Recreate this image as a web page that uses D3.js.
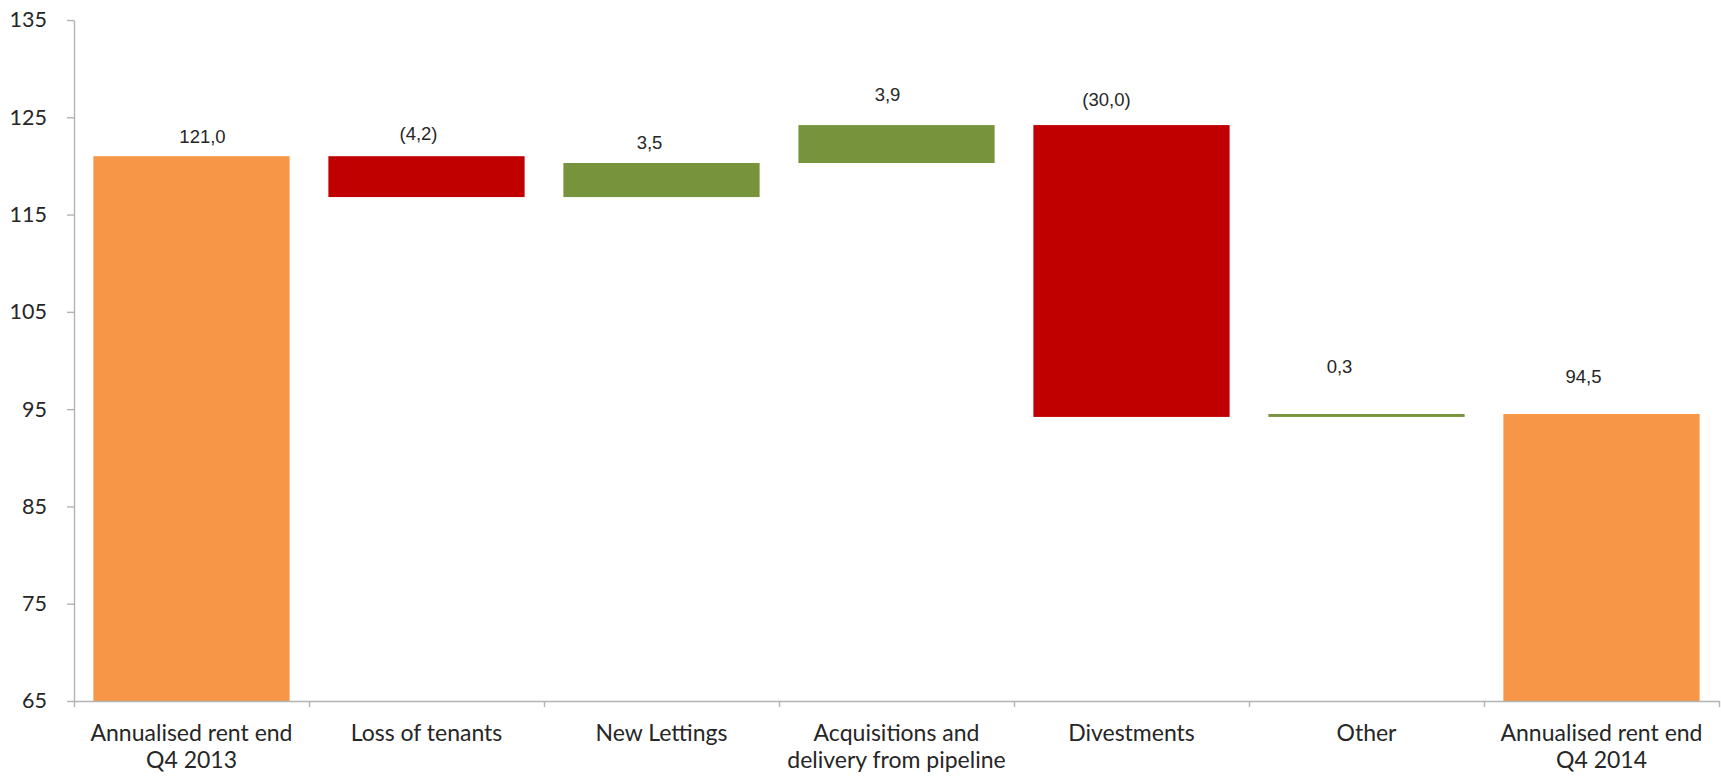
<!DOCTYPE html>
<html>
<head>
<meta charset="utf-8">
<script src="https://cdn.jsdelivr.net/npm/d3@7"></script>
<style>
  body { margin: 0; background: #fff; }
</style>
</head>
<body>
<div id="wrapper"></div>
<script>
// Data
const categories = [
  "Annualised rent end\nQ4 2013",
  "Loss of tenants",
  "New Lettings",
  "Acquisitions and\ndelivery from pipeline",
  "Divestments",
  "Other",
  "Annualised rent end\nQ4 2014",
];
// total = bar from axis base, else change from the running total
const kinds = ["total", "delta", "delta", "delta", "delta", "delta", "total"];
const values = [121.0, -4.2, 3.5, 3.9, -30.0, 0.3, 94.5];
const valueLabels = ["121,0", "(4,2)", "3,5", "3,9", "(30,0)", "0,3", "94,5"];
const yTicks = [65, 75, 85, 95, 105, 115, 125, 135];

// label nudges as placed in the original (px)
const labelDx = [11, -8, -12, -9, -25, -27, -18];
const labelDy = [20, 23, 20, 31, 26, 47, 37];

function drawChart() {
  const dimensions = {
    width: 1721,
    height: 777,
    margins: { top: 20, right: 2, bottom: 76, left: 74 },
  };
  dimensions.boundedWidth =
    dimensions.width - dimensions.margins.left - dimensions.margins.right;
  dimensions.boundedHeight =
    dimensions.height - dimensions.margins.top - dimensions.margins.bottom;

  // waterfall segments
  let running = 0;
  const bars = values.map((v, i) => {
    let y0, y1;
    if (kinds[i] === "total") {
      y0 = yTicks[0];
      y1 = v;
      running = v;
    } else {
      y0 = running;
      y1 = running + v;
      running = y1;
    }
    return { cat: categories[i], y0, y1, v, kind: kinds[i], i };
  });

  const colorFor = (d) =>
    d.kind === "total" ? "#F79646" : d.v < 0 ? "#C00000" : "#77933C";

  const wrapper = d3
    .select("#wrapper")
    .append("svg")
    .attr("width", dimensions.width)
    .attr("height", dimensions.height);

  const bounds = wrapper
    .append("g")
    .attr(
      "transform",
      `translate(${dimensions.margins.left},${dimensions.margins.top})`
    );

  // Scales
  const xScale = d3
    .scaleBand()
    .domain(categories)
    .range([0, dimensions.boundedWidth])
    .paddingInner(0.165)
    .paddingOuter(0.0825);

  const slotScale = d3
    .scaleLinear()
    .domain([0, categories.length])
    .range([0, dimensions.boundedWidth]);

  const yScale = d3
    .scaleLinear()
    .domain([yTicks[0], yTicks[yTicks.length - 1]])
    .range([dimensions.boundedHeight, 0]);

  // Bars
  bounds
    .append("g")
    .selectAll("rect")
    .data(bars)
    .join("rect")
    .attr("x", (d) => xScale(d.cat))
    .attr("width", xScale.bandwidth())
    .attr("y", (d) => yScale(Math.max(d.y0, d.y1)))
    .attr("height", (d) => Math.abs(yScale(d.y0) - yScale(d.y1)))
    .attr("fill", colorFor);

  // Value labels
  bounds
    .append("g")
    .selectAll("text")
    .data(bars)
    .join("text")
    .attr("x", (d) => xScale(d.cat) + xScale.bandwidth() / 2 + labelDx[d.i])
    .attr("y", (d) => yScale(Math.max(d.y0, d.y1)) - labelDy[d.i])
    .attr("dy", "0.35em")
    .attr("text-anchor", "middle")
    .style("font-family", "'Liberation Sans', Arial, sans-serif")
    .style("font-size", "18.5px")
    .attr("fill", "#262626")
    .text((d) => valueLabels[d.i]);

  // Y axis
  const yAxis = bounds
    .append("g")
    .call(
      d3
        .axisLeft(yScale)
        .tickValues(yTicks)
        .tickSize(7)
        .tickPadding(20)
        .tickSizeOuter(0)
    );
  yAxis.selectAll("text")
    .style("font-family", "Lato, 'Open Sans', sans-serif")
    .style("font-size", "21.5px")
    .attr("fill", "#262626");

  // X axis: tick marks at slot boundaries
  const xAxisTicks = bounds
    .append("g")
    .attr("transform", `translate(0,${dimensions.boundedHeight})`)
    .call(
      d3
        .axisBottom(slotScale)
        .tickValues(d3.range(categories.length + 1))
        .tickFormat("")
        .tickSize(6)
        .tickSizeOuter(0)
    );

  // X axis labels
  const xAxisLabels = bounds
    .append("g")
    .attr("transform", `translate(0,${dimensions.boundedHeight})`)
    .call(d3.axisBottom(xScale).tickSize(0).tickPadding(0).tickFormat(""));
  xAxisLabels.select(".domain").remove();
  xAxisLabels
    .selectAll(".tick")
    .append("text")
    .attr("text-anchor", "middle")
    .style("font-family", "Lato, 'Open Sans', sans-serif")
    .style("font-size", "23px")
    .attr("fill", "#262626")
    .each(function (d) {
      const lines = d.split("\n");
      const t = d3.select(this);
      lines.forEach((line, k) => {
        t.append("tspan").attr("x", 0).attr("y", 40 + k * 27).text(line);
      });
    });

  [yAxis, xAxisTicks].forEach((ax) => {
    ax.selectAll(".domain, line")
      .attr("stroke", "#B3B3B3")
      .attr("stroke-width", 1.4);
  });
}

drawChart();
</script>
</body>
</html>
